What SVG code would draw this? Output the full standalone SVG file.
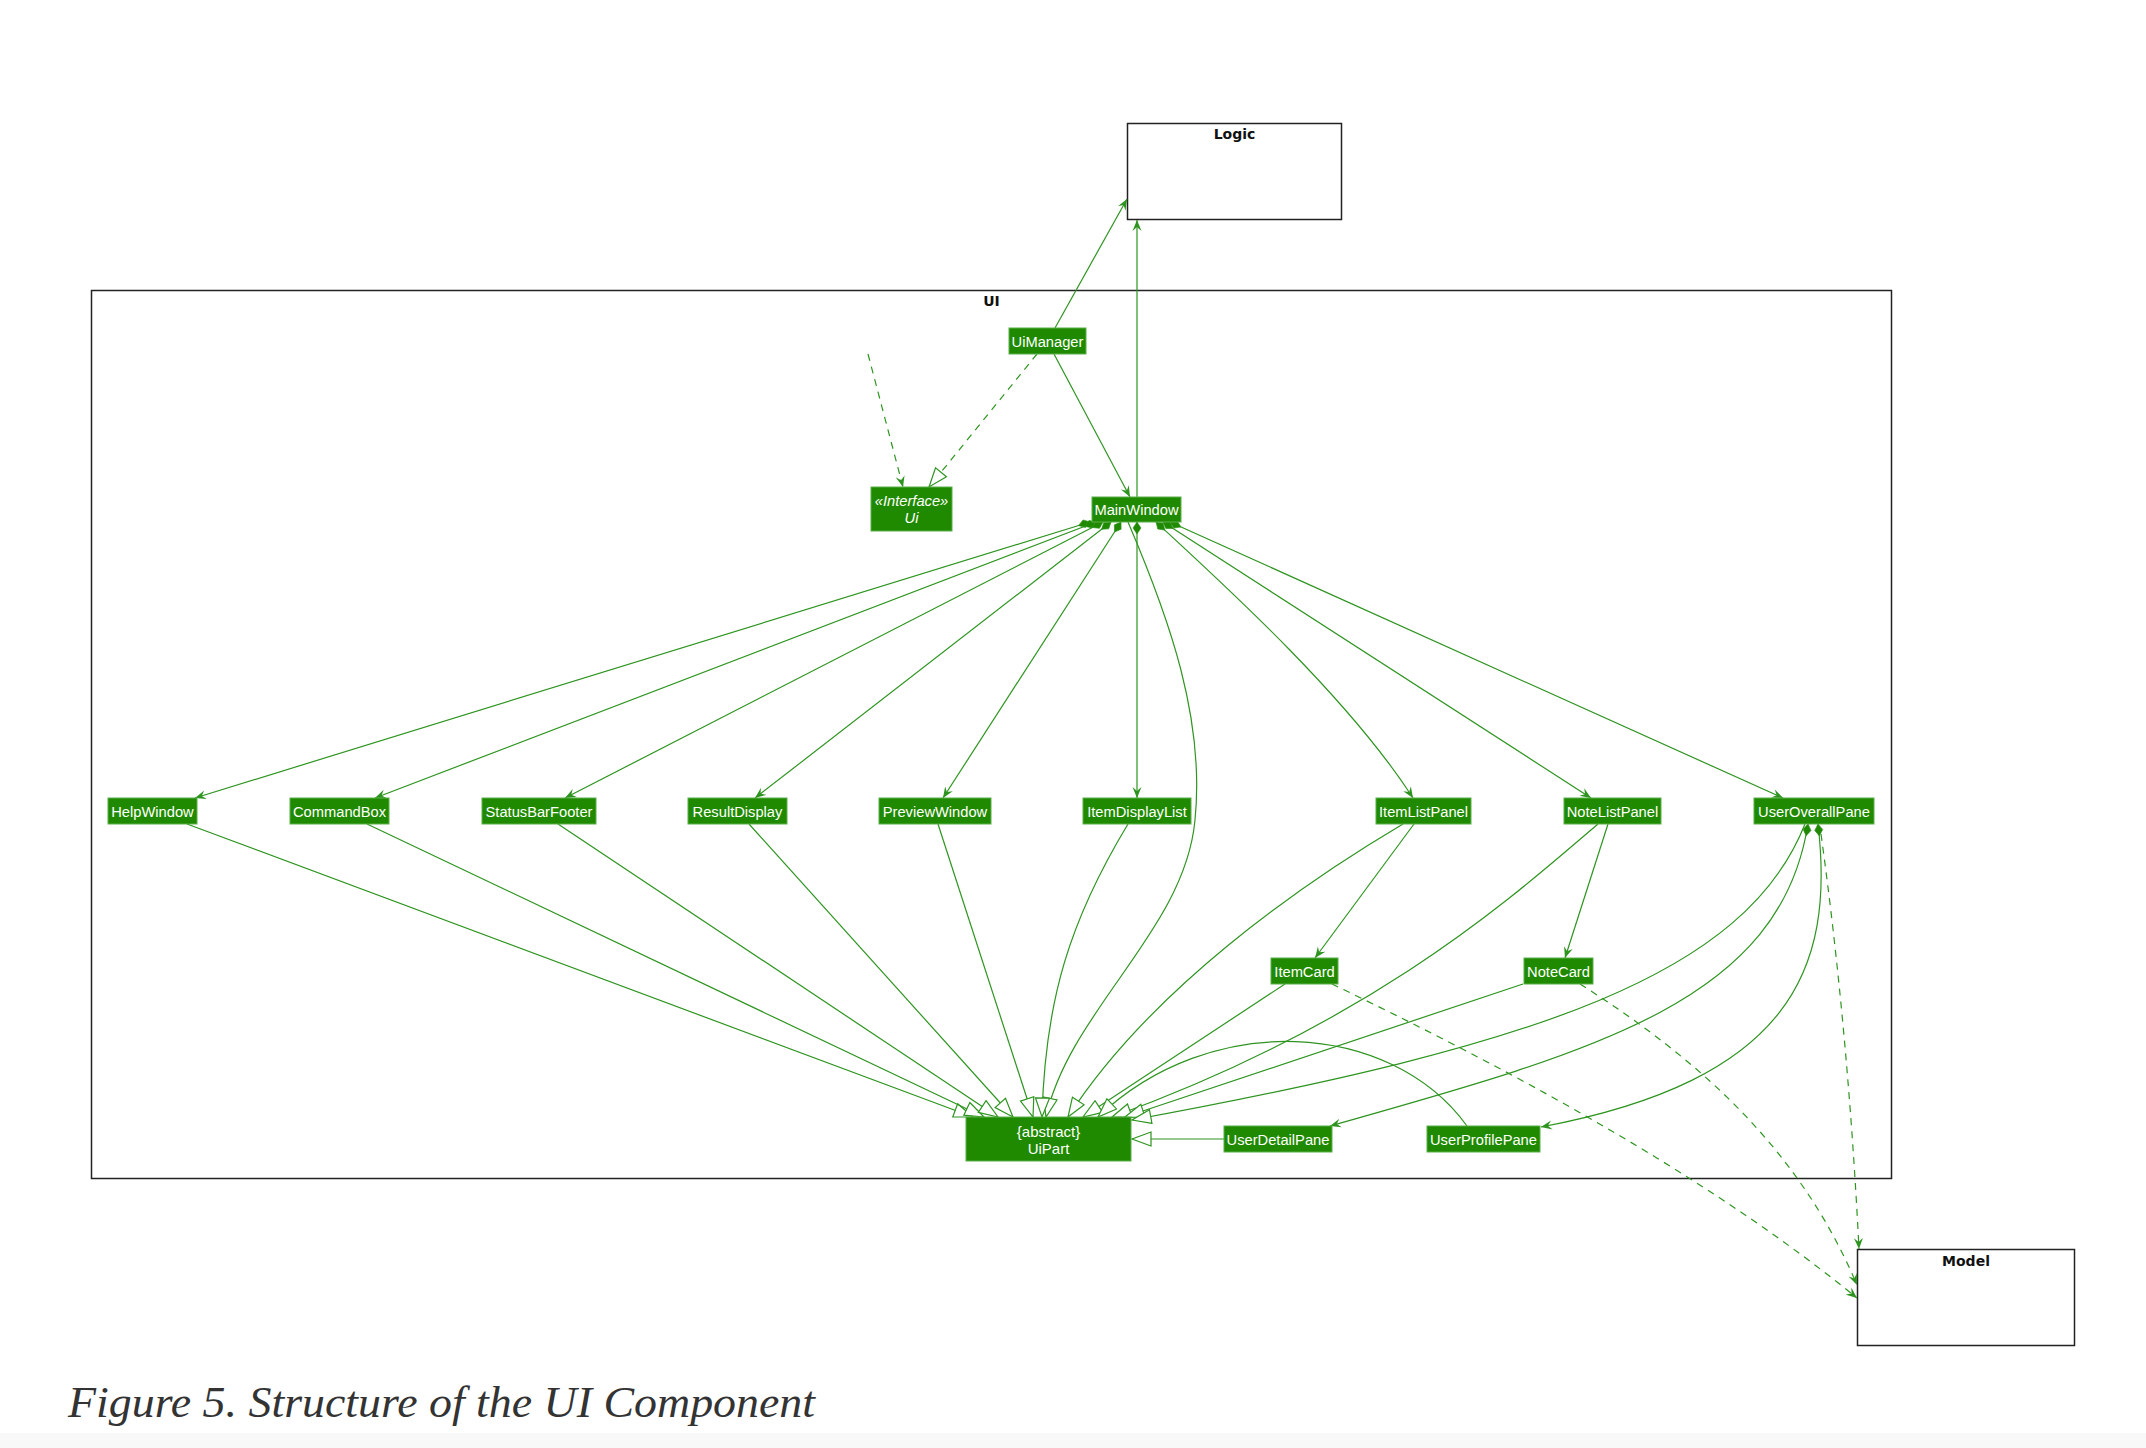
<svg xmlns="http://www.w3.org/2000/svg" width="2146" height="1448" viewBox="0 0 2146 1448">
  <style>
    .pkg rect { fill: #fff; stroke: #222; stroke-width: 1.5; }
    .pkg text { font-family: "DejaVu Sans", sans-serif; font-weight: bold; font-size: 14px; text-anchor: middle; fill: #111; }
    .cls rect { fill: #1f8a00; stroke: #5aae48; stroke-width: 1; }
    .cls text { fill: #fff; font-family: "Liberation Sans", Arial, sans-serif; font-size: 14.7px; text-anchor: middle; }
    .cls text.it { font-style: italic; }
    .edge { fill: none; stroke: #2e9420; stroke-width: 1.2; }
    .dash { stroke-dasharray: 7 6; }
    .caption { font-family: "Liberation Serif", "Times New Roman", serif; font-style: italic; font-size: 45px; fill: #333; }
  </style>
  <defs>
    <!-- navigable association arrowhead -->
    <marker id="arrow" viewBox="0 0 11 10" refX="11" refY="5" markerWidth="11" markerHeight="10" orient="auto" markerUnits="userSpaceOnUse">
      <path d="M0,0.5 L11,5 L0,9.5 L4,5 Z" fill="#2e9420"/>
    </marker>
    <!-- composition diamond at the owning end -->
    <marker id="diamond" viewBox="-1 -1 14 10" refX="0" refY="4" markerWidth="14" markerHeight="10" orient="auto" markerUnits="userSpaceOnUse">
      <path d="M0,4 L6,0 L12,4 L6,8 Z" fill="#1f8a00" stroke="#2e9420" stroke-width="0.6"/>
    </marker>
    <!-- hollow triangle for generalisation / realisation -->
    <marker id="tri" viewBox="-1 -1 21 16" refX="19" refY="7" markerWidth="21" markerHeight="16" orient="auto" markerUnits="userSpaceOnUse">
      <path d="M0,0 L19,7 L0,14 Z" fill="#fff" stroke="#2e9420" stroke-width="1.2"/>
    </marker>
  </defs>

  <rect x="0" y="0" width="2146" height="1448" fill="#fff"/>
  <rect x="0" y="1433" width="2146" height="15" fill="#f8f8f8"/>

  <!-- packages -->
  <g id="pkg-logic" class="pkg">
    <rect x="1127.5" y="123.5" width="214" height="96"/>
    <text x="1234.5" y="139">Logic</text>
  </g>
  <g id="pkg-ui" class="pkg">
    <rect x="91.5" y="290.5" width="1800" height="888"/>
    <text x="991.5" y="306">UI</text>
  </g>
  <g id="pkg-model" class="pkg">
    <rect x="1857.5" y="1249.5" width="217" height="96"/>
    <text x="1966" y="1266">Model</text>
  </g>

  <!-- connectors -->
  <g id="connectors">
    <path class="edge" d="M1055,328 L1127,199" marker-end="url(#arrow)"/>
    <path class="edge" d="M1137,497 L1137,220" marker-end="url(#arrow)"/>
    <path class="edge" d="M1054,354 L1130,497" marker-end="url(#arrow)"/>
    <path class="edge dash" d="M1037,354 L929,487" marker-end="url(#tri)"/>
    <path class="edge dash" d="M868,354 L903,487" marker-end="url(#arrow)"/>

    <!-- MainWindow compositions -->
    <path class="edge" d="M1090,522 L195,798" marker-start="url(#diamond)" marker-end="url(#arrow)"/>
    <path class="edge" d="M1096,522 L375,798" marker-start="url(#diamond)" marker-end="url(#arrow)"/>
    <path class="edge" d="M1103,522 L565,798" marker-start="url(#diamond)" marker-end="url(#arrow)"/>
    <path class="edge" d="M1111,522 L755,798" marker-start="url(#diamond)" marker-end="url(#arrow)"/>
    <path class="edge" d="M1121,522 L943,798" marker-start="url(#diamond)" marker-end="url(#arrow)"/>
    <path class="edge" d="M1137,522 L1137,798" marker-start="url(#diamond)" marker-end="url(#arrow)"/>
    <path class="edge" d="M1156,522 C1230,590 1350,700 1413,798" marker-start="url(#diamond)" marker-end="url(#arrow)"/>
    <path class="edge" d="M1163,522 L1591,798" marker-start="url(#diamond)" marker-end="url(#arrow)"/>
    <path class="edge" d="M1170,522 L1783,798" marker-start="url(#diamond)" marker-end="url(#arrow)"/>

    <!-- generalisations to UiPart -->
    <path class="edge" d="M1128,522 C1170,620 1205,720 1195,820 C1185,930 1070,1010 1046,1117" marker-end="url(#tri)"/>
    <path class="edge" d="M187,824 L973,1117" marker-end="url(#tri)"/>
    <path class="edge" d="M367,824 L984,1117" marker-end="url(#tri)"/>
    <path class="edge" d="M558,824 L998,1117" marker-end="url(#tri)"/>
    <path class="edge" d="M749,824 L1013,1117" marker-end="url(#tri)"/>
    <path class="edge" d="M938,824 L1033,1117" marker-end="url(#tri)"/>
    <path class="edge" d="M1128,824 C1070,920 1045,1000 1042,1117" marker-end="url(#tri)"/>
    <path class="edge" d="M1403,824 C1300,885 1150,990 1068,1117" marker-end="url(#tri)"/>
    <path class="edge" d="M1285,984 L1083,1117" marker-end="url(#tri)"/>
    <path class="edge" d="M1467,1126 C1390,1020 1210,1010 1098,1117" marker-end="url(#tri)"/>
    <path class="edge" d="M1598,824 C1520,890 1380,1020 1112,1117" marker-end="url(#tri)"/>
    <path class="edge" d="M1523,984 L1125,1117" marker-end="url(#tri)"/>
    <path class="edge" d="M1805,824 C1745,975 1540,1045 1132,1120" marker-end="url(#tri)"/>
    <path class="edge" d="M1224,1139 L1132,1139" marker-end="url(#tri)"/>

    <!-- list panels to cards -->
    <path class="edge" d="M1414,824 L1315,958" marker-end="url(#arrow)"/>
    <path class="edge" d="M1608,824 L1565,958" marker-end="url(#arrow)"/>

    <!-- UserOverallPane compositions -->
    <path class="edge" d="M1808,824 C1780,1000 1600,1050 1330,1126" marker-start="url(#diamond)" marker-end="url(#arrow)"/>
    <path class="edge" d="M1818,824 C1835,970 1790,1080 1541,1127" marker-start="url(#diamond)" marker-end="url(#arrow)"/>

    <!-- dependencies on Model -->
    <path class="edge dash" d="M1821,834 Q1848,1030 1859,1249" marker-end="url(#arrow)"/>
    <path class="edge dash" d="M1332,984 C1500,1065 1700,1170 1857,1298" marker-end="url(#arrow)"/>
    <path class="edge dash" d="M1580,984 C1700,1060 1800,1150 1857,1285" marker-end="url(#arrow)"/>
  </g>

  <!-- classes -->
  <g id="UiManager" class="cls"><rect x="1009" y="328" width="77" height="26"/><text x="1047.5" y="346.5">UiManager</text></g>
  <g id="Ui" class="cls"><rect x="871" y="487" width="81" height="44"/><text class="it" x="911.5" y="505.5">«Interface»</text><text class="it" x="911.5" y="523">Ui</text></g>
  <g id="MainWindow" class="cls"><rect x="1092" y="497" width="89" height="25"/><text x="1136.5" y="515">MainWindow</text></g>
  <g id="HelpWindow" class="cls"><rect x="108" y="798" width="89" height="26"/><text x="152.5" y="816.5">HelpWindow</text></g>
  <g id="CommandBox" class="cls"><rect x="290" y="798" width="99" height="26"/><text x="339.5" y="816.5">CommandBox</text></g>
  <g id="StatusBarFooter" class="cls"><rect x="482" y="798" width="114" height="26"/><text x="539" y="816.5">StatusBarFooter</text></g>
  <g id="ResultDisplay" class="cls"><rect x="688" y="798" width="99" height="26"/><text x="737.5" y="816.5">ResultDisplay</text></g>
  <g id="PreviewWindow" class="cls"><rect x="879" y="798" width="112" height="26"/><text x="935" y="816.5">PreviewWindow</text></g>
  <g id="ItemDisplayList" class="cls"><rect x="1083" y="798" width="108" height="26"/><text x="1137" y="816.5">ItemDisplayList</text></g>
  <g id="ItemListPanel" class="cls"><rect x="1376" y="798" width="95" height="26"/><text x="1423.5" y="816.5">ItemListPanel</text></g>
  <g id="NoteListPanel" class="cls"><rect x="1564" y="798" width="97" height="26"/><text x="1612.5" y="816.5">NoteListPanel</text></g>
  <g id="UserOverallPane" class="cls"><rect x="1754" y="798" width="120" height="26"/><text x="1814" y="816.5">UserOverallPane</text></g>
  <g id="ItemCard" class="cls"><rect x="1271" y="958" width="67" height="26"/><text x="1304.5" y="976.5">ItemCard</text></g>
  <g id="NoteCard" class="cls"><rect x="1524" y="958" width="69" height="26"/><text x="1558.5" y="976.5">NoteCard</text></g>
  <g id="UiPart" class="cls"><rect x="966" y="1117" width="165" height="44"/><text x="1048.5" y="1136.5" style="font-size:15px">{abstract}</text><text x="1048.5" y="1153.5" style="font-size:15px">UiPart</text></g>
  <g id="UserDetailPane" class="cls"><rect x="1224" y="1126" width="108" height="26"/><text x="1278" y="1144.5">UserDetailPane</text></g>
  <g id="UserProfilePane" class="cls"><rect x="1427" y="1126" width="113" height="26"/><text x="1483.5" y="1144.5">UserProfilePane</text></g>

  <text class="caption" x="68" y="1417" textLength="747" lengthAdjust="spacingAndGlyphs">Figure 5. Structure of the UI Component</text>
</svg>
